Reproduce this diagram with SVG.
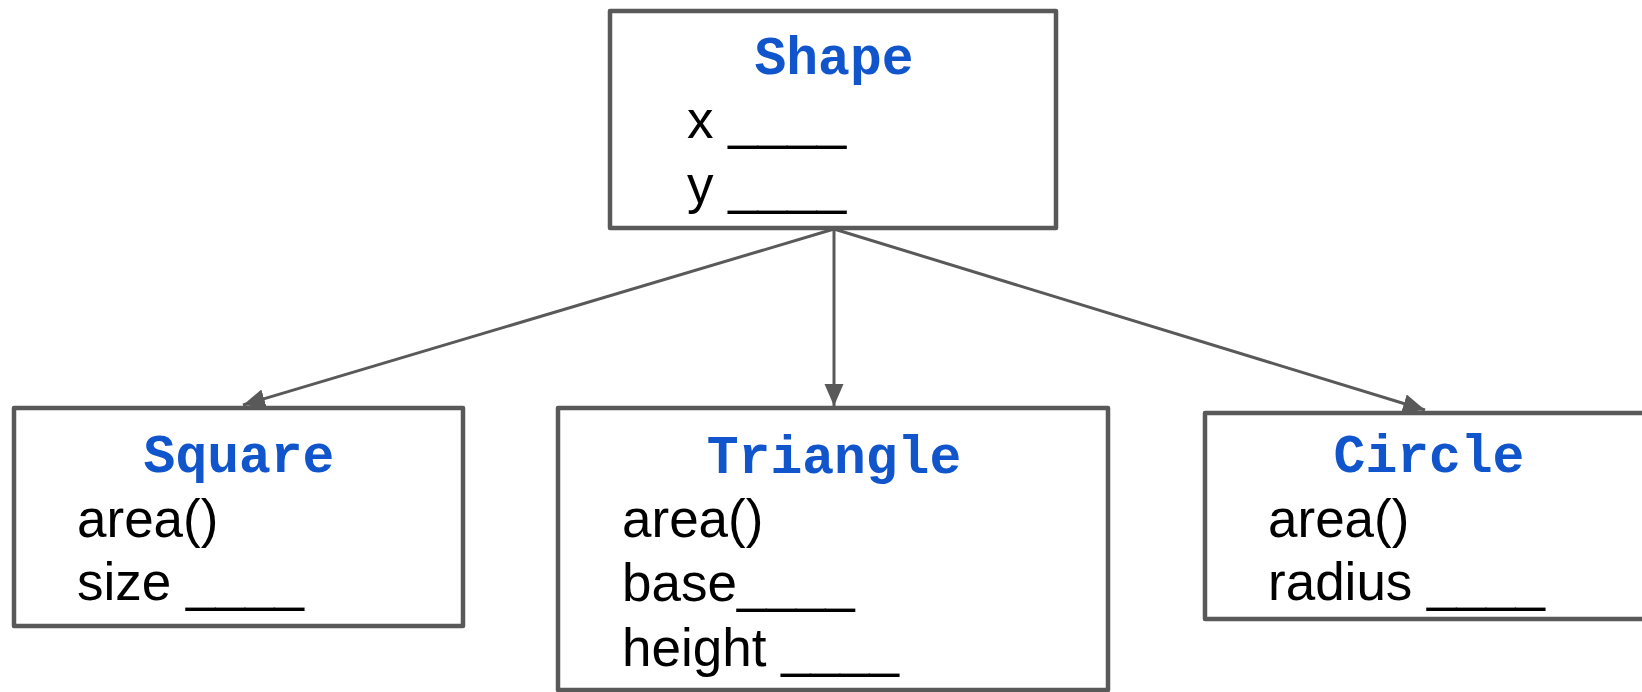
<svg xmlns="http://www.w3.org/2000/svg" width="1642" height="692" viewBox="0 0 1642 692">
<style>
.box{fill:#fff;stroke:#595959;stroke-width:4.5;stroke-linejoin:round}
.title{font-family:"Liberation Mono","Courier New",monospace;font-weight:bold;font-size:53px;fill:#1155cc;text-anchor:middle}
.body{font-family:"Liberation Sans",Arial,sans-serif;font-size:53px;fill:#000}
.conn{stroke:#595959;stroke-width:3;fill:none}
</style>
<defs>
<marker id="arr" markerUnits="userSpaceOnUse" markerWidth="24" markerHeight="20" refX="22" refY="9.5" orient="auto">
<path d="M0,0 L22,9.5 L0,19 Z" fill="#595959"/>
</marker>
</defs>
<rect width="1642" height="692" fill="#fff"/>
<g id="connectors">
<line class="conn" x1="834" y1="229" x2="243" y2="405" marker-end="url(#arr)"/>
<line class="conn" x1="834" y1="229" x2="834" y2="406" marker-end="url(#arr)"/>
<line class="conn" x1="834" y1="229" x2="1425" y2="410" marker-end="url(#arr)"/>
</g>
<g id="shape">
<rect class="box" x="610" y="11" width="446" height="217"/>
<text class="title" x="834" y="74">Shape</text>
<text class="body" x="687" y="138">x ____</text>
<text class="body" x="687" y="203">y ____</text>
</g>
<g id="square">
<rect class="box" x="14" y="408" width="449" height="218"/>
<text class="title" x="239" y="472">Square</text>
<text class="body" x="77" y="537">area()</text>
<text class="body" x="77" y="600">size ____</text>
</g>
<g id="triangle">
<rect class="box" x="558" y="408" width="550" height="282"/>
<text class="title" x="834" y="473">Triangle</text>
<text class="body" x="622" y="537">area()</text>
<text class="body" x="622" y="601">base____</text>
<text class="body" x="622" y="666">height ____</text>
</g>
<g id="circle">
<rect class="box" x="1205" y="413" width="448" height="206"/>
<text class="title" x="1429" y="472">Circle</text>
<text class="body" x="1268" y="537">area()</text>
<text class="body" x="1268" y="600">radius ____</text>
</g>
</svg>
